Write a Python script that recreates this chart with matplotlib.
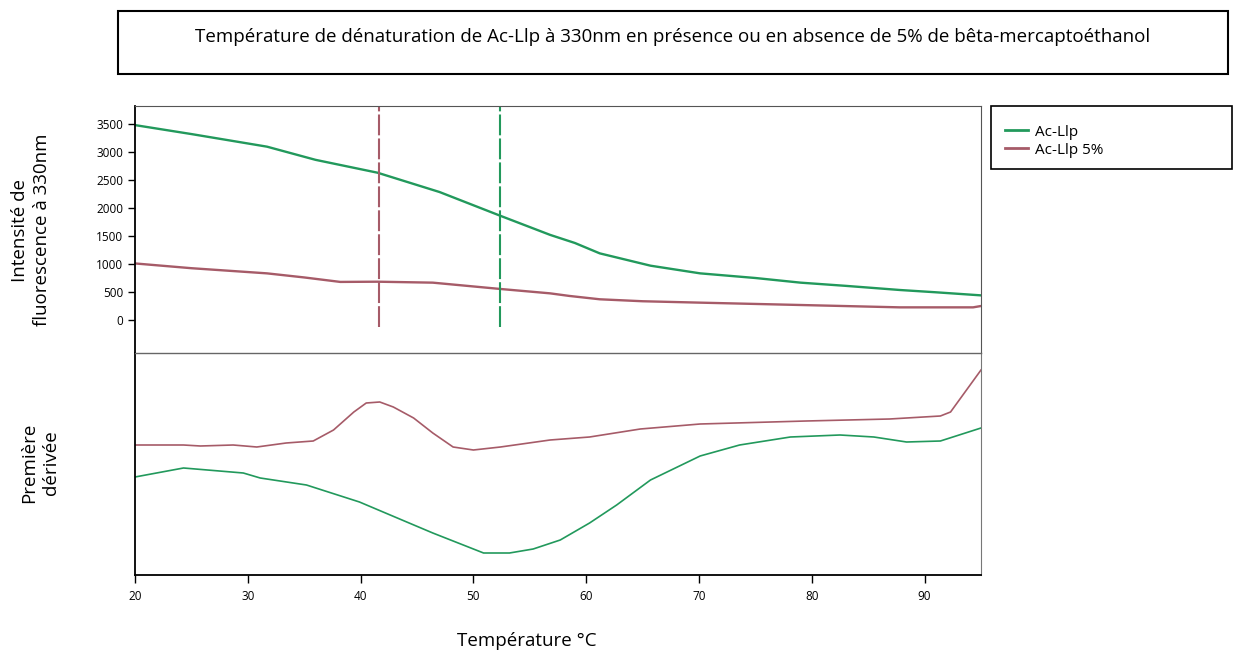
import matplotlib
matplotlib.use("Agg")
import matplotlib.pyplot as plt
from matplotlib.patches import Rectangle
from matplotlib.lines import Line2D

plt.rcParams['font.family'] = ['Open Sans', 'DejaVu Sans']

GREEN = '#22995c'
MAROON = '#a65b68'

# Intensité de fluorescence à 330nm
temp_green = [20, 25, 31.7, 36, 41.5, 47, 52.4, 56.8, 59, 61.2, 65.7, 70.1, 75, 79.0, 83, 87.8, 91, 95.0]
fluo_green = [3480, 3320, 3095, 2860, 2630, 2285, 1860, 1520, 1375, 1190, 970, 833, 750, 667, 610, 536, 495, 440]

temp_maroon = [20, 25, 31.7, 35, 38.2, 41.5, 46.4, 52.4, 56.8, 58.5, 61.2, 65, 70.1, 79.0, 87.8, 94.3, 95.0]
fluo_maroon = [1010, 925, 833, 760, 680, 684, 667, 554, 476, 430, 370, 335, 310, 268, 226, 226, 250]

# Tm (lignes verticales)
tm_green = 52.4
tm_maroon = 41.6

# Première dérivée (unités arbitraires)
dtemp_maroon = [20, 24.3, 25.8, 28.7, 30.8, 33.4, 35.8, 37.6, 39.4, 40.5, 41.7, 42.9,
                44.7, 46.4, 48.2, 50.0, 52.4, 56.8, 60.3, 64.8, 70.1, 79.5, 86.9,
                91.4, 92.3, 95.0]
deriv_maroon = [130, 130, 129, 130, 128, 132, 134, 145, 163, 172, 173, 168,
                157, 142, 128, 125, 128, 135, 138, 146, 151, 154, 156,
                159, 163, 205]

dtemp_green = [20, 24.3, 29.6, 31.1, 35.2, 39.9, 44.3, 46.4, 50.9, 53.2, 55.3, 57.7,
               60.3, 62.7, 65.7, 70.1, 73.6, 78.1, 82.5, 85.5, 88.4, 91.4, 95.0]
deriv_green = [98, 107, 102, 97, 90, 73, 52, 42, 22, 22, 26, 35,
               52, 70, 95, 119, 130, 138, 140, 138, 133, 134, 147]

xticks = [20, 30, 40, 50, 60, 70, 80, 90]
yticks = [0, 500, 1000, 1500, 2000, 2500, 3000, 3500]

fig = plt.figure(figsize=(12.44, 6.53), dpi=100)

left, width = 135 / 1244, 846 / 1244
ax_bot = fig.add_axes([left, 1 - 575 / 653, width, 222 / 653])
ax_top = fig.add_axes([left, 1 - 353 / 653, width, 247 / 653], sharex=ax_bot)
ax_top.patch.set_alpha(0)

# panneau du haut
ax_top.plot(temp_green, fluo_green, color=GREEN, lw=1.7)
ax_top.plot(temp_maroon, fluo_maroon, color=MAROON, lw=1.7)
ax_top.vlines(tm_maroon, -125, 3821, color=MAROON, lw=1.5, linestyles=[(0, (10, 1.5))])
ax_top.vlines(tm_green, -125, 3821, color=GREEN, lw=1.5, linestyles=[(0, (10, 1.5))])
ax_top.set_xlim(20, 95)
ax_top.set_ylim(-589, 3821)
ax_top.set_yticks(yticks)
ax_top.tick_params(axis='y', labelsize=8.5, length=5, width=1)
ax_top.tick_params(axis='x', bottom=False, labelbottom=False)
for s in ['top', 'right']:
    ax_top.spines[s].set_color('#555555')
ax_top.spines['bottom'].set_color('#666666')
ax_top.spines['bottom'].set_linewidth(1.0)
ax_top.spines['left'].set_linewidth(1.3)

# panneau du bas
ax_bot.plot(dtemp_maroon, deriv_maroon, color=MAROON, lw=1.2)
ax_bot.plot(dtemp_green, deriv_green, color=GREEN, lw=1.2)
ax_bot.set_ylim(0, 222)
ax_bot.set_yticks([])
ax_bot.set_xticks(xticks)
ax_bot.tick_params(axis='x', labelsize=8.5, length=6, width=1, pad=5)
ax_bot.spines['top'].set_visible(False)
ax_bot.spines['right'].set_color('#777777')
ax_bot.spines['left'].set_linewidth(1.3)
ax_bot.spines['bottom'].set_linewidth(1.3)

# étiquettes
fig.text(31 / 1244, 1 - 230 / 653, 'Intensité de\nfluorescence à 330nm', rotation=90,
         ha='center', va='center', fontsize=13.5, linespacing=1.25)
fig.text(40 / 1244, 1 - 463 / 653, 'Première\ndérivée', rotation=90,
         ha='center', va='center', fontsize=13.5, linespacing=1.25)
fig.text(527 / 1244, 1 - 641 / 653, 'Température °C', ha='center', va='center', fontsize=13.5)

# titre encadré
fig.patches.append(Rectangle((118 / 1244, 1 - 74 / 653), 1110 / 1244, 63 / 653,
                             transform=fig.transFigure, fill=False, lw=1.5, ec='black'))
fig.text(673 / 1244, 1 - 37 / 653,
         'Température de dénaturation de Ac-Llp à 330nm en présence ou en absence de 5% de bêta-mercaptoéthanol',
         ha='center', va='center', fontsize=13.5)

# légende
fig.patches.append(Rectangle((991 / 1244, 1 - 169 / 653), 241 / 1244, 63 / 653,
                             transform=fig.transFigure, fill=False, lw=1.2, ec='black'))
handles = [Line2D([], [], color=GREEN, lw=2), Line2D([], [], color=MAROON, lw=2)]
fig.legend(handles, ['Ac-Llp', 'Ac-Llp 5%'], loc='upper left',
           bbox_to_anchor=(994 / 1244, 1 - 114 / 653), frameon=False, fontsize=11,
           handlelength=1.5, handletextpad=0.5, labelspacing=0.2, borderpad=0.2)

fig.savefig('out.png', dpi=100)
